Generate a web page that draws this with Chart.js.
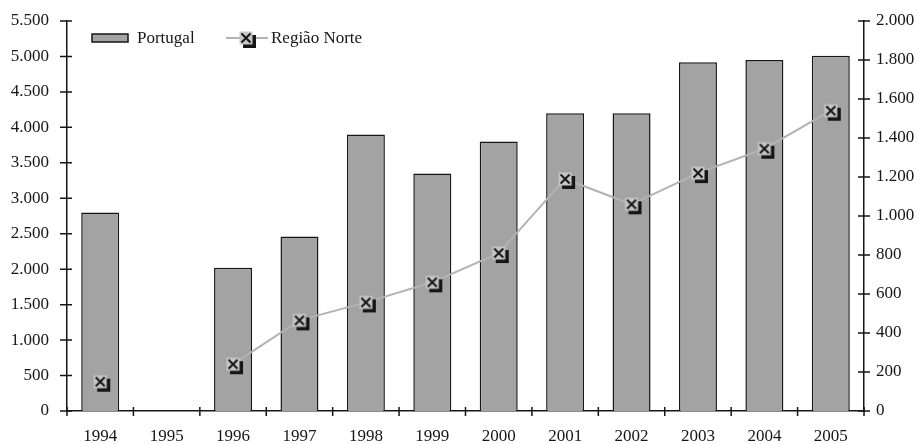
<!DOCTYPE html>
<html>
<head>
<meta charset="utf-8">
<script src="https://cdn.jsdelivr.net/npm/chart.js@4"></script>
<style>
	html, body { margin: 0; padding: 0; background: #fff; }
	#wrap { width: 918px; height: 444px; }
</style>
</head>
<body>
<div id="wrap"><canvas id="chart" width="918" height="444"></canvas></div>
<script>
const years = ["1994", "1995", "1996", "1997", "1998", "1999", "2000", "2001", "2002", "2003", "2004", "2005"];
const portugal = [2800, null, 2020, 2460, 3900, 3350, 3800, 4200, 4200, 4920, 4950, 5010];
const regiaoNorte = [150, null, 240, 465, 557, 660, 810, 1190, 1060, 1220, 1345, 1540];
const seriesNames = ["Portugal", "Região Norte"];

const BAR_FILL = "#a3a3a3";
const INK = "#161616";
const LINE_GREY = "#b3b3b3";
const FONT = "Liberation Serif";
const FONT_SIZE = 17;

// gray square with an X and a dark drop shadow
const makeMarker = () => {
	const c = document.createElement("canvas");
	c.width = 26;
	c.height = 26;
	const g = c.getContext("2d");
	g.fillStyle = INK;
	g.fillRect(10, 10, 13, 13);
	g.fillStyle = "#c6c6c6";
	g.fillRect(6.5, 6.5, 13, 13);
	g.strokeStyle = INK;
	g.lineWidth = 2;
	g.beginPath();
	g.moveTo(8.5, 8.5);
	g.lineTo(17.5, 17.5);
	g.moveTo(17.5, 8.5);
	g.lineTo(8.5, 17.5);
	g.stroke();
	return c;
};
const marker = makeMarker();

const fmt = (v) => String(v).replace(/\B(?=(\d{3})+(?!\d))/g, ".");

// fixed axis sizes; drop the extra room chart.js keeps for the end labels
const fixWidth = (w) => (s) => {
	s.width = w;
	s.paddingTop = 0;
	s.paddingBottom = 0;
};

// short ticks crossing the axes, plus the legend drawn inside the plot
const axisDecor = {
	id: "axisDecor",
	afterDraw(chart) {
		const ctx = chart.ctx;
		const { y, y1, x } = chart.scales;
		ctx.save();
		ctx.strokeStyle = INK;
		ctx.lineWidth = 1.5;
		ctx.beginPath();
		y.ticks.forEach((t) => {
			const py = y.getPixelForValue(t.value);
			ctx.moveTo(y.right - 7, py);
			ctx.lineTo(y.right + 5, py);
		});
		y1.ticks.forEach((t) => {
			const py = y1.getPixelForValue(t.value);
			ctx.moveTo(y1.left - 6, py);
			ctx.lineTo(y1.left + 6, py);
		});
		const n = years.length;
		const step = (x.right - x.left) / n;
		for (let i = 0; i <= n; i++) {
			const px = x.left + i * step;
			ctx.moveTo(px, x.top - 4);
			ctx.lineTo(px, x.top + 5);
		}
		ctx.stroke();

		// legend
		const ly = chart.chartArea.top + 17;
		ctx.fillStyle = BAR_FILL;
		ctx.fillRect(92, ly - 4, 36, 8);
		ctx.strokeRect(92, ly - 4, 36, 8);
		ctx.strokeStyle = LINE_GREY;
		ctx.lineWidth = 2;
		ctx.beginPath();
		ctx.moveTo(226, ly);
		ctx.lineTo(268, ly);
		ctx.stroke();
		ctx.drawImage(marker, 246 - 13, ly - 13);
		ctx.fillStyle = INK;
		ctx.font = FONT_SIZE + "px '" + FONT + "'";
		ctx.textBaseline = "middle";
		ctx.fillText(seriesNames[0], 137, ly + 1);
		ctx.fillText(seriesNames[1], 271, ly + 1);
		ctx.restore();
	},
};

new Chart(document.getElementById("chart").getContext("2d"), {
	type: "bar",
	data: {
		labels: years,
		datasets: [
			{
				type: "line",
				label: seriesNames[1],
				data: regiaoNorte,
				yAxisID: "y1",
				order: 0,
				borderColor: LINE_GREY,
				borderWidth: 2,
				pointStyle: marker,
				pointRadius: 7,
				spanGaps: false,
				tension: 0,
			},
			{
				label: seriesNames[0],
				data: portugal,
				yAxisID: "y",
				order: 1,
				backgroundColor: BAR_FILL,
				borderColor: INK,
				borderWidth: 1.5,
				borderSkipped: "bottom",
				categoryPercentage: 1,
				barPercentage: 0.572,
			},
		],
	},
	options: {
		responsive: false,
		animation: false,
		layout: { padding: { top: 21, left: 0, right: 0, bottom: 0 } },
		plugins: {
			legend: { display: false },
			tooltip: { enabled: false },
		},
		scales: {
			x: {
				offset: true,
				grid: { display: false, drawTicks: false },
				border: { display: true, color: INK, width: 1.5 },
				ticks: {
					color: INK,
					padding: 15,
					maxRotation: 0,
					autoSkip: false,
					font: { family: FONT, size: FONT_SIZE },
				},
				afterFit: (s) => { s.height = 33; },
			},
			y: {
				position: "left",
				min: 0,
				max: 5500,
				grid: { display: false, drawTicks: false },
				border: { display: true, color: INK, width: 1.5 },
				ticks: {
					stepSize: 500,
					color: INK,
					padding: 18,
					font: { family: FONT, size: FONT_SIZE },
					callback: (v) => fmt(v),
				},
				afterFit: fixWidth(67),
			},
			y1: {
				position: "right",
				min: 0,
				max: 2000,
				grid: { display: false, drawTicks: false },
				border: { display: true, color: INK, width: 1.5 },
				ticks: {
					stepSize: 200,
					color: INK,
					padding: 12,
					font: { family: FONT, size: FONT_SIZE },
					callback: (v) => fmt(v),
				},
				afterFit: fixWidth(54),
			},
		},
	},
	plugins: [axisDecor],
});
</script>
</body>
</html>
